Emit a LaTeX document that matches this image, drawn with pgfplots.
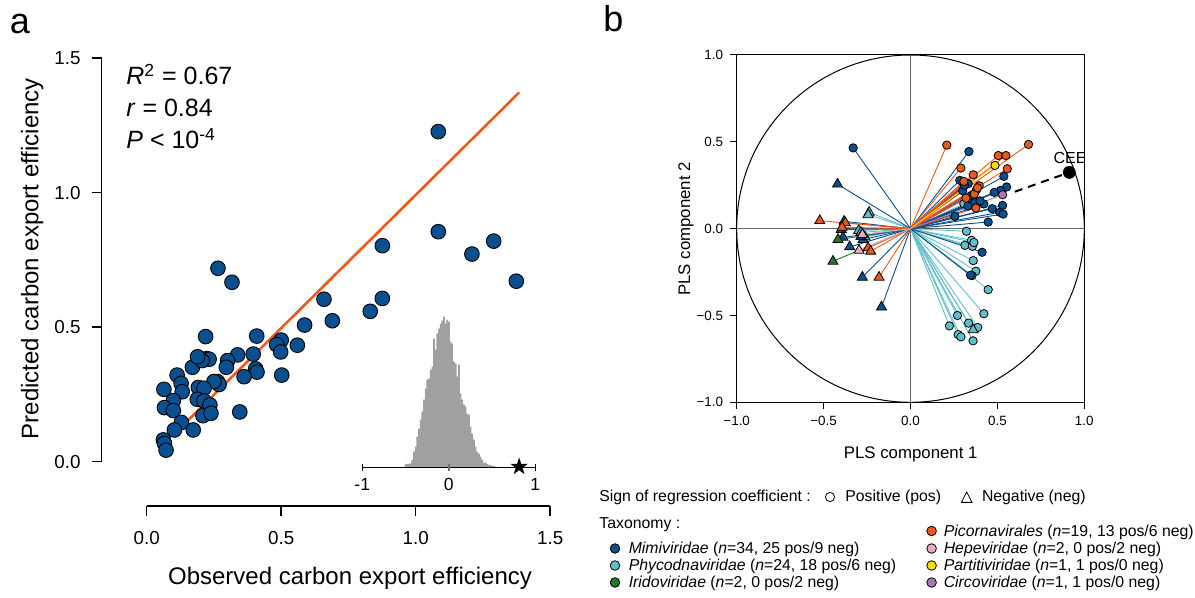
\documentclass[border=0pt]{standalone}
\usepackage{fontspec}
\setmainfont{Liberation Sans}
\usepackage{pgfplots}
\pgfplotsset{compat=1.18}
\usepackage{pgfplotstable}

\definecolor{dotblue}{RGB}{10,79,143}
\definecolor{regorange}{RGB}{240,88,30}
\definecolor{mimi}{RGB}{10,79,143}
\definecolor{phyco}{RGB}{98,190,202}
\definecolor{irido}{RGB}{30,122,45}
\definecolor{picorna}{RGB}{236,88,28}
\definecolor{hepe}{RGB}{236,172,192}
\definecolor{parti}{RGB}{250,220,0}
\definecolor{circo}{RGB}{168,120,180}
\definecolor{histgray}{RGB}{160,160,160}

\pgfdeclareplotmark{fstar}{%
 \pgfpathmoveto{\pgfpointpolar{90}{\pgfplotmarksize}}%
 \pgfpathlineto{\pgfpointpolar{126}{0.382\pgfplotmarksize}}%
 \pgfpathlineto{\pgfpointpolar{162}{\pgfplotmarksize}}%
 \pgfpathlineto{\pgfpointpolar{198}{0.382\pgfplotmarksize}}%
 \pgfpathlineto{\pgfpointpolar{234}{\pgfplotmarksize}}%
 \pgfpathlineto{\pgfpointpolar{270}{0.382\pgfplotmarksize}}%
 \pgfpathlineto{\pgfpointpolar{306}{\pgfplotmarksize}}%
 \pgfpathlineto{\pgfpointpolar{342}{0.382\pgfplotmarksize}}%
 \pgfpathlineto{\pgfpointpolar{18}{\pgfplotmarksize}}%
 \pgfpathlineto{\pgfpointpolar{54}{0.382\pgfplotmarksize}}%
 \pgfpathclose
 \pgfusepathqfill}

% ---------- panel a scatter ----------
\pgfplotstableread{
x y
1.084 1.227
1.084 0.855
1.290 0.820
1.209 0.772
1.374 0.671
0.876 0.803
0.876 0.607
0.831 0.559
0.659 0.604
0.690 0.524
0.587 0.508
0.560 0.433
0.500 0.452
0.483 0.435
0.498 0.408
0.502 0.322
0.409 0.467
0.396 0.400
0.405 0.345
0.410 0.333
0.362 0.316
0.346 0.185
0.265 0.719
0.317 0.667
0.338 0.397
0.301 0.376
0.296 0.351
0.219 0.465
0.223 0.383
0.232 0.381
0.170 0.351
0.206 0.376
0.189 0.390
0.263 0.298
0.269 0.287
0.250 0.298
0.113 0.322
0.128 0.291
0.132 0.260
0.064 0.269
0.099 0.227
0.066 0.201
0.099 0.190
0.192 0.276
0.213 0.273
0.188 0.232
0.213 0.226
0.235 0.211
0.209 0.171
0.239 0.180
0.129 0.146
0.103 0.118
0.173 0.118
0.062 0.081
0.066 0.068
0.072 0.043
}\scatterA

% ---------- panel b loadings ----------
\pgfplotstableread{
x y
-0.330 0.465
0.336 0.444
0.537 0.301
0.284 0.278
0.332 0.259
0.553 0.240
0.518 0.220
0.482 0.209
0.300 0.218
0.380 0.224
0.342 0.148
0.370 0.151
0.422 0.142
0.470 0.115
0.530 0.134
0.514 0.094
0.533 0.084
0.255 0.071
0.447 0.038
0.412 -0.136
0.346 -0.268
0.330 0.130
0.400 0.160
0.310 0.250
0.350 0.190
}\mimiPos
\pgfplotstableread{
x y
-0.420 0.256
-0.382 0.042
-0.398 -0.005
-0.388 -0.050
-0.273 -0.063
-0.285 -0.045
-0.350 -0.105
-0.277 -0.280
-0.167 -0.452
}\mimiNeg
\pgfplotstableread{
x y
0.307 0.144
0.322 -0.015
0.351 -0.067
0.313 -0.096
0.356 -0.102
0.365 -0.080
0.361 -0.184
0.376 -0.245
0.354 -0.270
0.447 -0.351
0.422 -0.490
0.270 -0.500
0.224 -0.560
0.274 -0.610
0.290 -0.623
0.334 -0.544
0.387 -0.569
0.360 -0.646
}\phycoPos
\pgfplotstableread{
x y
-0.238 0.094
-0.244 0.080
-0.298 -0.011
-0.285 -0.022
-0.262 -0.048
0.360 -0.583
}\phycoNeg
\pgfplotstableread{
x y
-0.417 -0.063
-0.446 -0.188
}\iridoNeg
\pgfplotstableread{
x y
0.209 0.481
0.679 0.485
0.505 0.421
0.549 0.421
0.290 0.349
0.557 0.345
0.361 0.310
0.307 0.272
0.395 0.247
0.367 0.199
0.319 0.176
0.376 0.119
0.385 0.235
}\picornaPos
\pgfplotstableread{
x y
-0.522 0.046
-0.375 0.033
-0.394 0.008
-0.244 -0.111
-0.229 -0.130
-0.181 -0.280
}\picornaNeg
\pgfplotstableread{
x y
-0.277 -0.034
-0.296 -0.125
}\hepeNeg
\pgfplotstableread{
x y
0.486 0.364
}\partiPos
\pgfplotstableread{
x y
0.530 0.195
}\circoPos

\pgfplotsset{
 vec/.style={#1, line width=0.45pt, quiver={u=\thisrow{x},v=\thisrow{y}}},
 pos/.style={only marks, mark=*, mark size=2.1pt, mark options={fill=#1, draw=black, line width=0.4pt}},
 neg/.style={only marks, mark=triangle*, mark size=2.9pt, mark options={fill=#1, draw=black, line width=0.4pt}},
}

\begin{document}
\begin{tikzpicture}
\useasboundingbox (0,0) rectangle (597.5pt,-299pt);

% ================= panel a =================
\begin{axis}[
  at={(50.85pt,-253pt)}, anchor=south west,
  scale only axis, width=231pt, height=230.625pt,
  xmin=-0.1673, xmax=1.5502, ymin=-0.1647, ymax=1.55,
  axis x line*=bottom, axis y line*=left,
  axis line style={draw=none,-},
  tick align=outside, major tick length=5pt,
  tick style={black, line width=0.75pt},
  xtick={0,0.5,1,1.5}, xticklabels={0.0,0.5,1.0,1.5},
  ytick={0,0.5,1,1.5}, yticklabels={0.0,0.5,1.0,1.5},
  ticklabel style={font=\fontsize{9.4}{11}\selectfont},
  xticklabel style={yshift=-4pt},
  yticklabel style={xshift=-2pt},
  clip=false,
]
\draw[line width=0.75pt] (axis cs:-0.1673,0) -- (axis cs:-0.1673,1.5);
\draw[line width=0.75pt] (axis cs:0,-0.1647) -- (axis cs:1.5,-0.1647);
\addplot[only marks, mark=*, mark size=3.67pt, mark options={fill=dotblue, draw=black, line width=0.45pt}] table {\scatterA};
\addplot[regorange, line width=1.3pt] coordinates {(0.155,0.155) (1.385,1.373)};
\end{axis}

% inset histogram
\begin{axis}[
  at={(181.15pt,-233.85pt)}, anchor=south west,
  scale only axis, width=86.5pt, height=80pt,
  xmin=-1, xmax=1, ymin=0, ymax=160,
  axis x line*=bottom, axis y line=none,
  axis line style={black, line width=0.6pt, -},
  axis on top,
  tick align=center, major tick length=3.4pt,
  tick style={black, line width=0.6pt},
  xtick={-1,1}, xticklabels={-1,1},
  extra x ticks={0}, extra x tick labels={0},
  extra x tick style={tick style={draw=black!55, line width=0.8pt}},
  ticklabel style={font=\fontsize{8.8}{10}\selectfont},
  clip=false,
]
\addplot[const plot, fill=histgray, draw=none] coordinates {
(-0.528,1) (-0.509,3.7) (-0.489,3.7) (-0.470,3.7) (-0.451,4.3) (-0.432,7.7)
(-0.412,16) (-0.393,21) (-0.374,31) (-0.354,39) (-0.335,48) (-0.316,56)
(-0.297,68) (-0.277,79) (-0.258,88) (-0.239,89) (-0.220,98) (-0.200,101)
(-0.181,129) (-0.162,118) (-0.143,134) (-0.123,139) (-0.104,144) (-0.085,147)
(-0.066,151) (-0.046,144) (-0.027,148) (-0.008,146) (0.012,126) (0.031,124)
(0.050,106) (0.069,104) (0.089,91) (0.108,103) (0.127,74) (0.146,68)
(0.166,63) (0.185,61) (0.204,54) (0.224,53) (0.243,41) (0.262,34)
(0.281,28) (0.301,21) (0.320,16) (0.339,14) (0.358,11) (0.378,8)
(0.397,5) (0.416,5) (0.435,3.7) (0.455,2.7) (0.474,2.7) (0.493,1.7)
(0.512,1.7) (0.532,1) (0.551,1)
} \closedcycle;
\addplot[only marks, mark=fstar, mark size=4.6pt, black] coordinates {(0.813,1)};
\end{axis}

% panel a texts
\node[anchor=base west, inner sep=0, font=\fontsize{18}{20}\selectfont] at (4.8pt,-17pt) {a};
\node[anchor=base west, inner sep=0, font=\fontsize{12.5}{14}\selectfont] at (63pt,-42.5pt) {\textit{R}\textsuperscript{2} = 0.67};
\node[anchor=base west, inner sep=0, font=\fontsize{12.5}{14}\selectfont] at (63pt,-58.5pt) {\textit{r} = 0.84};
\node[anchor=base west, inner sep=0, font=\fontsize{12.5}{14}\selectfont] at (63pt,-74.5pt) {\textit{P} < 10\textsuperscript{-4}};
\node[anchor=base, inner sep=0, font=\fontsize{12}{14}\selectfont] at (175pt,-292.3pt) {Observed carbon export efficiency};
\node[anchor=base, inner sep=0, rotate=90, font=\fontsize{12}{14}\selectfont] at (19.25pt,-129.3pt) {Predicted carbon export efficiency};

% ================= panel b =================
\begin{axis}[
  at={(368.35pt,-201.15pt)}, anchor=south west,
  scale only axis, width=173.8pt, height=173.65pt,
  xmin=-1, xmax=1, ymin=-1, ymax=1,
  xtick={-1,-0.5,0,0.5,1}, xticklabels={−1.0,−0.5,0.0,0.5,1.0},
  ytick={-1,-0.5,0,0.5,1}, yticklabels={−1.0,−0.5,0.0,0.5,1.0},
  xtick pos=left, ytick pos=left,
  tick align=outside, major tick length=3.3pt,
  tick style={black, line width=0.5pt},
  axis line style={black, line width=0.5pt},
  ticklabel style={font=\fontsize{6.7}{8}\selectfont},
  clip=true,
]
\draw[black, line width=0.5pt] (axis cs:0,0) ellipse [x radius=1, y radius=1];
\draw[black!60, line width=0.7pt] (axis cs:-1,0) -- (axis cs:1,0);
\draw[black!60, line width=0.7pt] (axis cs:0,-1) -- (axis cs:0,1);
\draw[black, dashed, line width=1pt, dash pattern=on 4pt off 3pt] (axis cs:0.60,0.2125) -- (axis cs:0.914,0.324);
% vectors
\addplot[vec=phyco] table[x expr=0, y expr=0] {\phycoPos};
\addplot[vec=phyco] table[x expr=0, y expr=0] {\phycoNeg};
\addplot[vec=mimi] table[x expr=0, y expr=0] {\mimiPos};
\addplot[vec=mimi] table[x expr=0, y expr=0] {\mimiNeg};
\addplot[vec=picorna] table[x expr=0, y expr=0] {\picornaPos};
\addplot[vec=picorna] table[x expr=0, y expr=0] {\picornaNeg};
\addplot[vec=irido] table[x expr=0, y expr=0] {\iridoNeg};
\addplot[vec=hepe] table[x expr=0, y expr=0] {\hepeNeg};
\addplot[vec=parti] table[x expr=0, y expr=0] {\partiPos};
\addplot[vec=circo] table[x expr=0, y expr=0] {\circoPos};
% markers
\addplot[pos=phyco] table {\phycoPos};
\addplot[neg=phyco] table {\phycoNeg};
\addplot[pos=mimi] table {\mimiPos};
\addplot[neg=mimi] table {\mimiNeg};
\addplot[pos=picorna] table {\picornaPos};
\addplot[neg=picorna] table {\picornaNeg};
\addplot[neg=irido] table {\iridoNeg};
\addplot[neg=hepe] table {\hepeNeg};
\addplot[pos=parti] table {\partiPos};
\addplot[pos=circo] table {\circoPos};
\addplot[only marks, mark=*, mark size=3pt, black] coordinates {(0.914,0.324)};
\node[anchor=base west, inner sep=0, font=\fontsize{8}{9}\selectfont] at (axis cs:0.821,0.378) {CEE};
\end{axis}

\node[anchor=base west, inner sep=0, font=\fontsize{18}{20}\selectfont] at (301.5pt,-16pt) {b};
\node[anchor=base, inner sep=0, font=\fontsize{8.4}{10}\selectfont] at (455.35pt,-229.15pt) {PLS component 1};
\node[anchor=base, inner sep=0, rotate=90, font=\fontsize{8.4}{10}\selectfont] at (345pt,-114.5pt) {PLS component 2};

% ================= legend =================
\begin{scope}[font=\fontsize{7.9}{9}\selectfont]
\node[anchor=base west, inner sep=0] at (299.5pt,-251pt) {Sign of regression coefficient :};
\draw[black, line width=0.4pt] (415pt,-248.5pt) circle [radius=2.3pt];
\node[anchor=base west, inner sep=0] at (422.5pt,-251pt) {Positive (pos)};
\draw[black, line width=0.4pt] (480.7pt,-251.2pt) -- (486pt,-251.2pt) -- (483.35pt,-246pt) -- cycle;
\node[anchor=base west, inner sep=0] at (490.8pt,-251pt) {Negative (neg)};
\node[anchor=base west, inner sep=0] at (299.5pt,-264.5pt) {Taxonomy :};

\draw[black, line width=0.4pt, fill=mimi] (307.5pt,-274.25pt) circle [radius=2.4pt];
\node[anchor=base west, inner sep=0] at (314.2pt,-277pt) {\textit{Mimiviridae} (\textit{n}=34, 25 pos/9 neg)};
\draw[black, line width=0.4pt, fill=phyco] (307.5pt,-282.75pt) circle [radius=2.4pt];
\node[anchor=base west, inner sep=0] at (314.2pt,-285.5pt) {\textit{Phycodnaviridae} (\textit{n}=24, 18 pos/6 neg)};
\draw[black, line width=0.4pt, fill=irido] (307.5pt,-291.25pt) circle [radius=2.4pt];
\node[anchor=base west, inner sep=0] at (314.2pt,-294pt) {\textit{Iridoviridae} (\textit{n}=2, 0 pos/2 neg)};

\draw[black, line width=0.4pt, fill=picorna] (465.8pt,-265.5pt) circle [radius=2.4pt];
\node[anchor=base west, inner sep=0] at (471.7pt,-268.25pt) {\textit{Picornavirales} (\textit{n}=19, 13 pos/6 neg)};
\draw[black, line width=0.4pt, fill=hepe] (465.8pt,-274.25pt) circle [radius=2.4pt];
\node[anchor=base west, inner sep=0] at (471.7pt,-277pt) {\textit{Hepeviridae} (\textit{n}=2, 0 pos/2 neg)};
\draw[black, line width=0.4pt, fill=parti] (465.8pt,-282.75pt) circle [radius=2.4pt];
\node[anchor=base west, inner sep=0] at (471.7pt,-285.5pt) {\textit{Partitiviridae} (\textit{n}=1, 1 pos/0 neg)};
\draw[black, line width=0.4pt, fill=circo] (465.8pt,-291.25pt) circle [radius=2.4pt];
\node[anchor=base west, inner sep=0] at (471.7pt,-294pt) {\textit{Circoviridae} (\textit{n}=1, 1 pos/0 neg)};
\end{scope}
\end{tikzpicture}
\end{document}
